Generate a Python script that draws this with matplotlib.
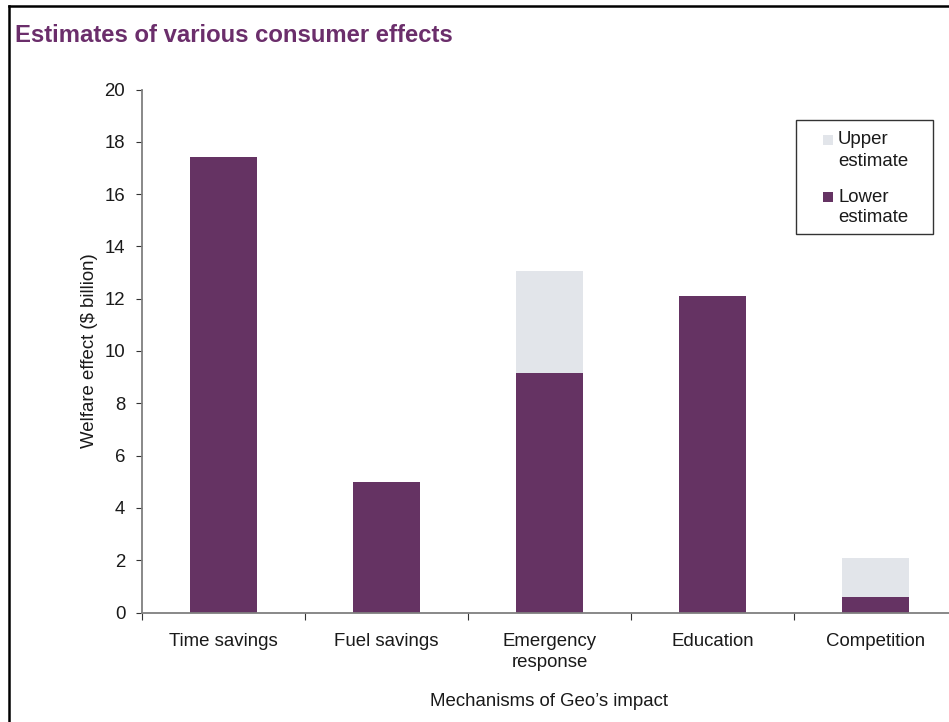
import numpy as np
import matplotlib.pyplot as plt
from matplotlib.patches import Rectangle
from matplotlib.lines import Line2D

plt.rcParams["font.family"] = ["Liberation Sans", "DejaVu Sans"]

# data
categories = ["Time savings", "Fuel savings", "Emergency\nresponse", "Education", "Competition"]
lower_estimate = [17.4, 5.0, 9.15, 12.1, 0.58]
upper_estimate = [17.4, 5.0, 13.05, 12.1, 2.07]
y_ticks = [0, 2, 4, 6, 8, 10, 12, 14, 16, 18, 20]
legend_labels = [("Upper", "estimate"), ("Lower", "estimate")]

PURPLE = "#653363"
LIGHT = "#E2E5EA"
AXIS_GREY = "#7F7F7F"
TXT = "#1a1a1a"
FS = 13.4

W, H = 949, 722
fig = plt.figure(figsize=(W / 100, H / 100), dpi=100)
ax = fig.add_axes([142 / W, 1 - 612.5 / H, 815 / W, 523 / H])

x = np.arange(len(categories)) + 0.5
lower = np.array(lower_estimate)
upper = np.array(upper_estimate)

ax.bar(x, lower, width=0.41, color=PURPLE, zorder=2)
ax.bar(x, upper - lower, bottom=lower, width=0.41, color=LIGHT, zorder=2)

ax.set_xlim(0, len(categories))
ax.set_ylim(0, 20)
ax.set_yticks(y_ticks)
ax.set_xticks(np.arange(len(categories) + 1))
ax.set_xticklabels([])
ax.set_xticks(x, minor=True)
ax.set_xticklabels(categories, minor=True, fontsize=FS, color=TXT, linespacing=1.28)
ax.tick_params(axis="x", which="minor", length=0, pad=15)
ax.tick_params(axis="x", which="major", direction="out", length=5, color="#333333")
ax.tick_params(axis="y", direction="out", length=4, color="#333333",
               labelsize=FS, labelcolor=TXT, pad=8)

for side in ("top", "right"):
    ax.spines[side].set_visible(False)
for side in ("left", "bottom"):
    ax.spines[side].set_color(AXIS_GREY)
    ax.spines[side].set_linewidth(1.3)

ax.set_ylabel(r"Welfare effect (\$ billion)", fontsize=FS, color=TXT, labelpad=5)
ax.set_xlabel("Mechanisms of Geo\u2019s impact", fontsize=FS, color=TXT, labelpad=16)

fig.text(15 / W, 1 - 35 / H, "Estimates of various consumer effects",
         fontsize=17.2, fontweight="bold", color="#6B2E6B", va="center", ha="left")


def px(xp, yp):
    # pixel position (from top-left) -> figure fraction
    return xp / W, 1 - yp / H


# legend box drawn by hand so the swatch sits on the first text line
fig.add_artist(Rectangle(px(796, 234), 137 / W, 114 / H, transform=fig.transFigure,
                         facecolor="white", edgecolor="#333333", lw=1.0))
swatch_colors = [LIGHT, PURPLE]
for i, (first, second) in enumerate(legend_labels):
    y0 = 140 + i * 57
    fig.add_artist(Rectangle(px(823, y0 + 5), 10 / W, 10 / H, transform=fig.transFigure,
                             facecolor=swatch_colors[i], edgecolor="none"))
    fig.text(*px(838, y0), first, fontsize=FS, color=TXT, va="center", ha="left")
    fig.text(*px(838, y0 + 21), second, fontsize=FS, color=TXT, va="center", ha="left")

# frame around the figure (only left and top edges are visible in the crop)
fig.add_artist(Line2D([8.5 / W, 8.5 / W], [0, 1 - 5.5 / H], color="black", lw=1.8))
fig.add_artist(Line2D([8.5 / W, 1], [1 - 5.5 / H, 1 - 5.5 / H], color="black", lw=1.8))

fig.savefig("out.png", dpi=100)
